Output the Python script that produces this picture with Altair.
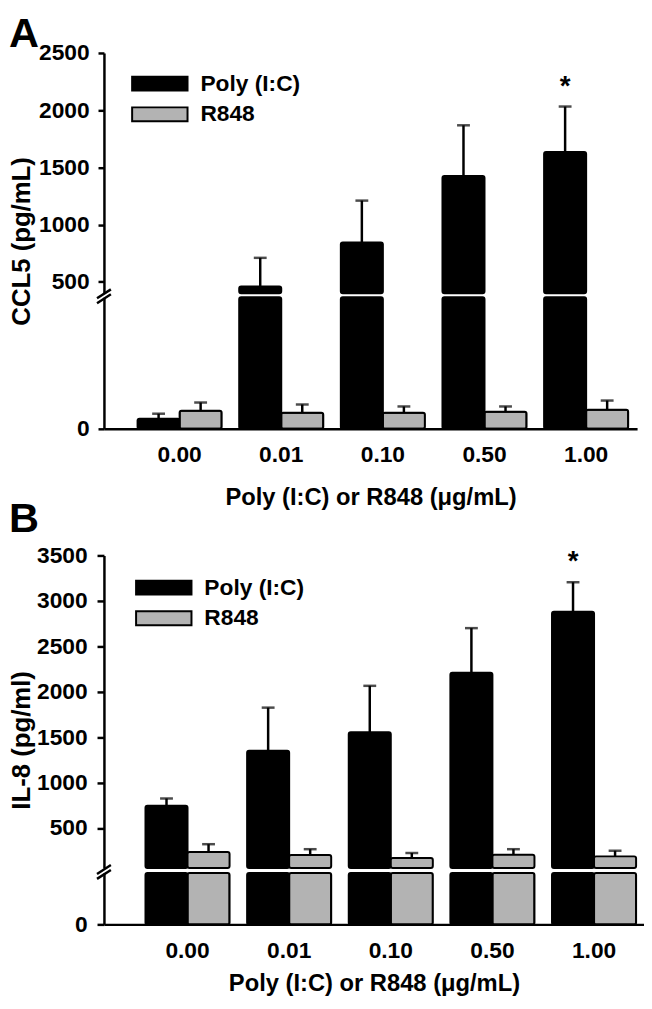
import altair as alt
import pandas as pd

# ---------------- data ----------------
doses = ["0.00", "0.01", "0.10", "0.50", "1.00"]
series_names = ["Poly (I:C)", "R848"]

ccl5_poly = [31, 460, 845, 1425, 1635]
ccl5_poly_sd = [15, 250, 365, 443, 397]
ccl5_r848 = [55, 49, 49, 52, 58]
ccl5_r848_sd = [25, 25, 19, 16, 28]

il8_poly = [745, 1350, 1555, 2210, 2880]
il8_poly_sd = [80, 475, 510, 490, 325]
il8_r848 = [235, 202, 170, 205, 188]
il8_r848_sd = [87, 65, 55, 62, 62]

poly_sig = ["", "", "", "", "*"]
r848_sig = ["", "", "", "", ""]

ccl5_ticks = [500, 1000, 1500, 2000, 2500]
il8_ticks = [500, 1000, 1500, 2000, 2500, 3000, 3500]

FONT = "Liberation Sans"
COLORS = ["#000000", "#b3b3b3"]


def make_df(poly, poly_sd, r848, r848_sd):
    return pd.DataFrame({
        "dose": doses * 2,
        "series": [s for s in series_names for _ in doses],
        "mean": poly + r848,
        "sd": poly_sd + r848_sd,
        "sig": poly_sig + r848_sig,
    })


def panel(df, letter, ytitle, lo, top, ticks, upper_h, lower_h, gap, width, left_gap,
          tick_size, lab_pad, title_pad, title_dx, title_off, legend_x, legend_y,
          x_title_pad):
    step = 102.75
    band = 85.0
    p_in = 1 - band / step
    p_out = (width / step - 5 + p_in) / 2
    align = left_gap / (width - step * (5 - p_in))
    xscale = alt.Scale(domain=doses, paddingInner=p_in, paddingOuter=p_out, align=align,
                       round=False)
    xo = alt.XOffset("series:N", sort=series_names,
                     scale=alt.Scale(domain=series_names, paddingInner=0, paddingOuter=0,
                                     round=False))
    color = alt.Color("series:N",
                      scale=alt.Scale(domain=series_names, range=COLORS),
                      legend=alt.Legend(title=None, orient="none", legendX=legend_x, legendY=legend_y,
                                        symbolType="M-4,-1H4V1H-4Z", symbolSize=196,
                                        symbolStrokeColor="black", symbolStrokeWidth=2,
                                        labelFontSize=23, labelFont=FONT, labelFontWeight="bold",
                                        labelOffset=29.5, rowPadding=7, padding=0,
                                        labelColor="black"))
    total_h = upper_h + gap + lower_h
    yaxis_up = alt.Axis(values=ticks, format="d", title=ytitle, titleY=total_h / 2,
                        titleFontSize=26, labelFontSize=23, tickSize=tick_size,
                        labelPadding=lab_pad, titlePadding=title_pad,
                        domainWidth=2.5, tickWidth=2.5)
    yscale_up = alt.Scale(domain=[lo, top], zero=False, nice=False)

    base = alt.Chart(df).transform_calculate(hi="datum.mean + datum.sd")
    xenc = alt.X("dose:N", sort=doses, scale=xscale, axis=None)

    up_bars = base.transform_filter(alt.datum.mean > lo).mark_bar(
        stroke="black", strokeWidth=2, cornerRadius=2, strokeJoin="round"
    ).encode(
        x=xenc, xOffset=xo,
        y=alt.Y("mean:Q", scale=yscale_up, axis=yaxis_up),
        y2=alt.datum(lo),
        color=color,
    )
    up_err = base.transform_filter(alt.datum.mean > lo).mark_rule(
        color="black", strokeWidth=2.5
    ).encode(
        x=xenc, xOffset=xo,
        y=alt.Y("mean:Q", scale=yscale_up, axis=yaxis_up),
        y2="hi:Q",
    )
    up_cap = base.transform_filter(alt.datum.mean > lo).mark_tick(
        color="black", size=13, thickness=2.5
    ).encode(
        x=xenc, xOffset=xo,
        y=alt.Y("hi:Q", scale=yscale_up, axis=yaxis_up),
    )
    up_star = base.transform_filter(alt.datum.mean > lo).mark_text(
        font=FONT, fontSize=28, fontWeight="bold", baseline="alphabetic", dy=-12, color="black"
    ).encode(
        x=xenc, xOffset=xo,
        y=alt.Y("hi:Q", scale=yscale_up, axis=yaxis_up),
        text="sig:N",
    )
    upper = alt.layer(up_bars, up_err, up_cap, up_star).properties(
        width=width, height=upper_h,
        title=alt.TitleParams(letter, anchor="start", frame="group", fontSize=42, font=FONT,
                              fontWeight="bold", dx=title_dx, offset=title_off, color="black"),
    )

    yscale_lo = alt.Scale(domain=[0, lo], zero=True, nice=False)
    yaxis_lo = alt.Axis(values=[0], format="d", title=None, labelFontSize=23,
                        tickSize=tick_size, labelPadding=lab_pad,
                        domainWidth=2.5, tickWidth=2.5)
    xaxis_lo = alt.Axis(title="Poly (I:C) or R848 (\u03bcg/mL)", labelAngle=0, ticks=False,
                        labelFontSize=23, labelPadding=15, titleFontSize=24,
                        titlePadding=x_title_pad, domainWidth=2.5)
    xenc_lo = alt.X("dose:N", sort=doses, scale=xscale, axis=xaxis_lo)
    lbase = base.transform_calculate(cm=f"min(datum.mean, {lo})")
    lo_bars = lbase.mark_bar(
        stroke="black", strokeWidth=2, cornerRadius=2, strokeJoin="round"
    ).encode(
        x=xenc_lo, xOffset=xo,
        y=alt.Y("cm:Q", scale=yscale_lo, axis=yaxis_lo),
        color=alt.Color("series:N", scale=alt.Scale(domain=series_names, range=COLORS), legend=None),
    )
    lo_err = base.transform_filter(alt.datum.mean <= lo).mark_rule(
        color="black", strokeWidth=2.5
    ).encode(
        x=xenc_lo, xOffset=xo,
        y=alt.Y("mean:Q", scale=yscale_lo, axis=yaxis_lo),
        y2="hi:Q",
    )
    lo_cap = base.transform_filter(alt.datum.mean <= lo).mark_tick(
        color="black", size=13, thickness=2.5
    ).encode(
        x=xenc_lo, xOffset=xo,
        y=alt.Y("hi:Q", scale=yscale_lo, axis=yaxis_lo),
    )
    brk_src = alt.Chart(pd.DataFrame({"k": [0]})).mark_rule(color="black", strokeWidth=2.5)
    brk1 = brk_src.encode(x=alt.value(-7), x2=alt.value(7), y=alt.value(1), y2=alt.value(-8))
    brk2 = brk_src.encode(x=alt.value(-7), x2=alt.value(7), y=alt.value(6), y2=alt.value(-3))
    lower = alt.layer(lo_bars, lo_err, lo_cap, brk1, brk2).properties(width=width, height=lower_h)

    return alt.vconcat(upper, lower, spacing=gap, bounds="flush")


dfA = make_df(ccl5_poly, ccl5_poly_sd, ccl5_r848, ccl5_r848_sd)
dfB = make_df(il8_poly, il8_poly_sd, il8_r848, il8_r848_sd)

panelA = panel(dfA, "A", "CCL5 (pg/mL)", 400, 2500, ccl5_ticks, 243, 133, 4, 539, 34,
               6, 9, 4, -96, -14, 45, 19.5, 20)
panelB = panel(dfB, "B", "IL-8 (pg/ml)", 60, 3500, il8_ticks, 316, 52, 5, 546, 42,
               7, 10, 2, -96, 4, 49, 21, 10)

chart = alt.concat(panelA, panelB, columns=1, align="none", spacing=-12).properties(
    padding={"left": 0, "top": 0, "right": 0, "bottom": 0}
).resolve_scale(color="independent").configure_view(stroke=None).configure_axis(
    labelFont=FONT, titleFont=FONT, labelFontWeight="bold", titleFontWeight="bold",
    labelColor="black", titleColor="black", domainColor="black", tickColor="black", grid=False
)

chart.save("out.html", embed_options={"renderer": "svg", "actions": False})
